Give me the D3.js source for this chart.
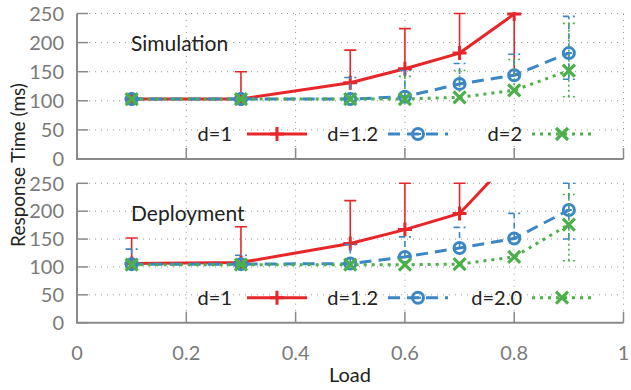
<!DOCTYPE html>
<html><head><meta charset="utf-8">
<script src="https://cdn.jsdelivr.net/npm/d3@7"></script>
<style>body{margin:0;background:#fff}svg{display:block}text{font-family:Lato,"Open Sans",sans-serif}</style>
</head><body><svg id="c" width="631" height="390"></svg>
<script>
const loads = [0.1, 0.3, 0.5, 0.6, 0.7, 0.8, 0.9];
const xTicks = [0, 0.2, 0.4, 0.6, 0.8, 1];
const xTickLabels = ["0", "0.2", "0.4", "0.6", "0.8", "1"];
const yTicks = [0, 50, 100, 150, 200, 250];

// Simulation
const simD1 = [103, 103, 131, 155, 182, 249];
const simD1Hi = [103, 150, 187, 224, 250, 300];
const simD1Lo = [103, 103, 131, 155, 182, 144];
const simD12 = [103, 103, 103, 107, 129, 144, 182];
const simD12Hi = [103, 103, 140, 152, 164, 180, 245];
const simD12Lo = [103, 103, 103, 107, 129, 144, 137];
const simD2 = [103, 103, 103, 103, 106, 118, 152];
const simD2Hi = [103, 103, 103, 142, 152, 171, 233];
const simD2Lo = [103, 103, 103, 103, 106, 118, 107];
// Deployment
const depD1 = [106, 108, 142, 167, 196, 300];
const depD1Hi = [152, 172, 219, 250, 250, 300];
const depD1Lo = [106, 108, 142, 167, 196, 300];
const depD12 = [105, 105, 106, 118, 134, 151, 202];
const depD12Hi = [132, 121, 140, 154, 171, 196, 250];
const depD12Lo = [105, 105, 106, 118, 134, 151, 150];
const depD2 = [104, 104, 104, 104, 105, 118, 176];
const depD2Hi = [104, 104, 104, 104, 105, 118, 230];
const depD2Lo = [104, 104, 104, 104, 105, 118, 111];

const panelTitles = ["Simulation", "Deployment"];
const legendLabels = [["d=1", "d=1.2", "d=2"], ["d=1", "d=1.2", "d=2.0"]];
const colors = ["#e8262a", "#3b87c6", "#4cb04a"];

const panels = [
  {top: 13.5, bottom: 159, series: [[simD1, simD1Lo, simD1Hi], [simD12, simD12Lo, simD12Hi], [simD2, simD2Lo, simD2Hi]]},
  {top: 183.3, bottom: 322.7, series: [[depD1, depD1Lo, depD1Hi], [depD12, depD12Lo, depD12Hi], [depD2, depD2Lo, depD2Hi]]}
];

const svg = d3.select("#c");
const x = d3.scaleLinear().domain([0, 1]).range([77, 623.5]);
const dashes = [null, "12,7", "3,5"];
const barDash = [null, "6,4", "2,3"];
const axisCol = "#8a8a8a";

function marker(g, k, cx, cy, col) {
  if (k === 0) {
    g.append("path").attr("d", `M${cx-7},${cy}H${cx+7}M${cx},${cy-7}V${cy+7}`)
      .attr("stroke", col).attr("stroke-width", 3).attr("fill", "none");
  } else if (k === 1) {
    g.append("circle").attr("cx", cx).attr("cy", cy).attr("r", 5.5)
      .attr("stroke", col).attr("stroke-width", 3).attr("fill", "none");
    g.append("path").attr("d", `M${cx-3},${cy}H${cx+3}`).attr("stroke", col).attr("stroke-width", 2);
  } else {
    g.append("path").attr("d", `M${cx-6},${cy-6}L${cx+6},${cy+6}M${cx-6},${cy+6}L${cx+6},${cy-6}`)
      .attr("stroke", col).attr("stroke-width", 3.2).attr("fill", "none");
  }
}

panels.forEach((p, pi) => {
  const y = d3.scaleLinear().domain([0, 250]).range([p.bottom, p.top]);
  const g = svg.append("g");
  const clipId = "clip" + pi;
  svg.append("clipPath").attr("id", clipId).append("rect")
    .attr("x", x(0)).attr("y", y(250) - 1.5).attr("width", x(1) - x(0) + 2).attr("height", y(0) - y(250) + 1.5);

  // grid
  yTicks.filter(t => t > 0).forEach(t => {
    g.append("line").attr("x1", x(0)).attr("x2", x(1)).attr("y1", y(t)).attr("y2", y(t))
      .attr("stroke", "#999").attr("stroke-width", 1).attr("stroke-dasharray", "1,5");
  });
  xTicks.filter(t => t > 0).forEach(t => {
    g.append("line").attr("x1", x(t)).attr("x2", x(t)).attr("y1", y(0)).attr("y2", y(250))
      .attr("stroke", "#999").attr("stroke-width", 1).attr("stroke-dasharray", "1,5");
  });
  // axes
  g.append("path").attr("d", `M${x(0)},${y(250)}V${y(0)}H${x(1)}`)
    .attr("stroke", axisCol).attr("stroke-width", 2).attr("fill", "none");
  yTicks.forEach(t => {
    g.append("line").attr("x1", x(0)).attr("x2", x(0) + 11).attr("y1", y(t)).attr("y2", y(t))
      .attr("stroke", axisCol).attr("stroke-width", 1.5);
    g.append("text").attr("x", 64).attr("y", y(t)).attr("dy", "0.36em").attr("text-anchor", "end")
      .attr("font-size", 20).attr("fill", "#7a7a7a").text(t);
  });
  xTicks.forEach(t => {
    g.append("line").attr("x1", x(t)).attr("x2", x(t)).attr("y1", y(0)).attr("y2", y(0) - 11)
      .attr("stroke", axisCol).attr("stroke-width", 1.5);
  });

  // data
  const dg = g.append("g").attr("clip-path", `url(#${clipId})`);
  p.series.forEach(([vals, lo, hi], k) => {
    const col = colors[k];
    const pts = vals.map((v, i) => [loads[i], v]);
    // error bars (only drawn where they extend beyond the mean)
    vals.forEach((v, i) => {
      const cx = x(loads[i]);
      if (hi[i] !== lo[i]) {
        dg.append("line").attr("x1", cx).attr("x2", cx).attr("y1", y(lo[i])).attr("y2", y(hi[i]))
          .attr("stroke", col).attr("stroke-width", 1.6).attr("stroke-dasharray", barDash[k]);
      }
      [lo[i], hi[i]].forEach(e => {
        if (e === v) return;
        dg.append("line").attr("x1", cx - 6).attr("x2", cx + 6).attr("y1", y(e)).attr("y2", y(e))
          .attr("stroke", col).attr("stroke-width", 1.6).attr("stroke-dasharray", barDash[k]);
      });
    });
    dg.append("path").datum(pts)
      .attr("d", d3.line().x(d => x(d[0])).y(d => y(d[1])))
      .attr("fill", "none").attr("stroke", col).attr("stroke-width", 3)
      .attr("stroke-dasharray", dashes[k]);
    pts.forEach(d => marker(dg, k, x(d[0]), y(d[1]), col));
  });

  // title
  g.append("text").attr("x", 131).attr("y", y(250) + 30).attr("dy", "0.36em")
    .attr("font-size", 21).attr("fill", "#222").text(panelTitles[pi]);

  // legend
  const ly = y(0) - 25;
  const legX = [[232, 247, 307], [378, 388, 448], [522, 532, 592]];
  legendLabels[pi].forEach((lab, k) => {
    const [tx, l0, l1] = legX[k];
    g.append("text").attr("x", tx).attr("y", ly).attr("dy", "0.36em").attr("text-anchor", "end")
      .attr("font-size", 20).attr("fill", "#222").text(lab);
    g.append("line").attr("x1", l0).attr("x2", l1).attr("y1", ly).attr("y2", ly)
      .attr("stroke", colors[k]).attr("stroke-width", 3).attr("stroke-dasharray", dashes[k]);
    marker(g, k, (l0 + l1) / 2, ly, colors[k]);
  });

  if (pi === 1) {
    xTicks.forEach((t, i) => {
      g.append("text").attr("x", x(t)).attr("y", 353).attr("dy", "0.36em").attr("text-anchor", "middle")
        .attr("font-size", 20).attr("fill", "#7a7a7a").text(xTickLabels[i]);
    });
  }
});

svg.append("text").attr("x", 350).attr("y", 375).attr("dy", "0.36em").attr("text-anchor", "middle")
  .attr("font-size", 20).attr("fill", "#222").text("Load");
svg.append("text").attr("transform", "translate(18,165) rotate(-90)").attr("dy", "0.36em")
  .attr("text-anchor", "middle").attr("font-size", 19).attr("fill", "#222").text("Response Time (ms)");
</script></body></html>
